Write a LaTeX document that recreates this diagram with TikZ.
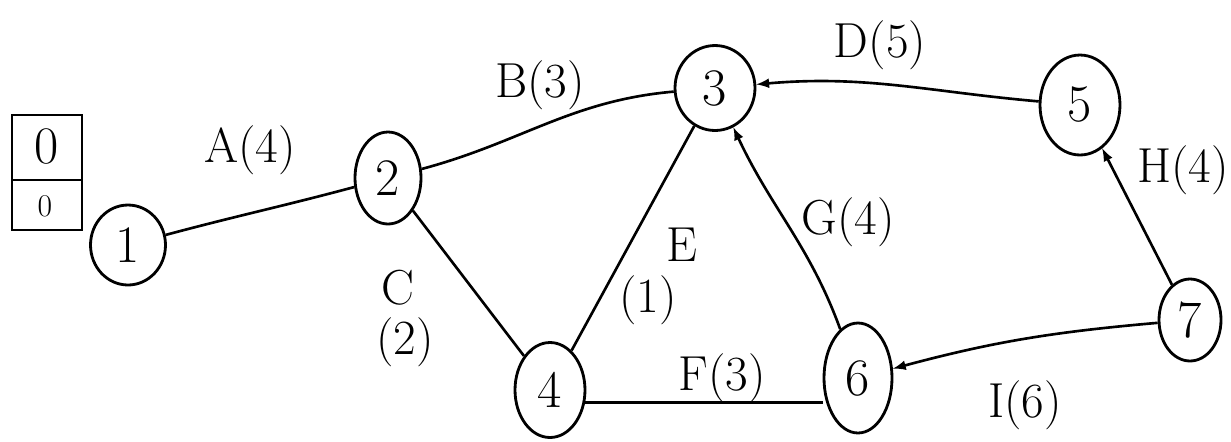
\documentclass[tikz,border=0pt]{standalone}
\usepackage{amsmath,amssymb}
\usepackage{tikz}
\usepackage{xcolor}
\usetikzlibrary{shapes.geometric}

\tikzset{
    event/.style={draw, ellipse, line width=1.6pt, inner sep=0pt, font=\fontsize{30}{34}\selectfont},
    lbl/.style={font=\fontsize{28}{32}\selectfont, inner sep=1pt},
    act/.style={line width=1.5pt},
}

\begin{document}
\begin{tikzpicture}[x=0.02cm, y=-0.02cm, >=latex]
    \useasboundingbox (0,0) rectangle (1231,441);
    \draw[line width=1.6pt] (12,115) rectangle (82,230);
    \draw[line width=1.4pt] (12,180) -- (82,180);
    \node[font=\fontsize{30}{34}\selectfont] (est) at (47,146) {0};
    \node[font=\fontsize{18}{20}\selectfont] (lst) at (45,206) {0};

    \node[event, minimum width=1.5cm, minimum height=1.6cm] (n1) at (128,245) {1};
    \node[event, minimum width=1.32cm, minimum height=1.84cm] (n2) at (388,178) {2};
    \node[event, minimum width=1.6cm, minimum height=1.7cm] (n3) at (715,88) {3};
    \node[event, minimum width=1.6cm, minimum height=2.0cm] (n5) at (1080,105) {5};
    \node[event, minimum width=1.4cm, minimum height=1.9cm] (n4) at (550,390) {4};
    \node[event, minimum width=1.36cm, minimum height=2.2cm] (n6) at (858,378) {6};
    \node[event, minimum width=1.24cm, minimum height=1.64cm] (n7) at (1190,320) {7};

    \draw[act] (n1) to[out=15, in=195] (n2);
    \draw[act] (n2) to[out=15, in=185] (n3);
    \draw[act, ->] (n5) to[out=175, in=5] (n3);
    \draw[act] (n2) -- (n4);
    \draw[act] (n4) -- (n3);
    \draw[act] (n4.-20) -- (n4.-20 -| n6.west);
    \draw[act, ->] (n6) to[out=110, in=-65] (n3);
    \draw[act, ->] (n7) -- (n5);
    \draw[act, ->] (n7) to[out=185, in=15] (n6);

    \node[lbl] (lA) at (250,150) {A(4)};
    \node[lbl] (lB) at (540,85) {B(3)};
    \node[lbl] (lD) at (880,45) {D(5)};
    \node[lbl] (lC) at (398,288) {C};
    \node[lbl] (lC2) at (405,342) {(2)};
    \node[lbl] (lE) at (682,245) {E};
    \node[lbl] (lE2) at (648,300) {(1)};
    \node[lbl] (lF) at (722,378) {F(3)};
    \node[lbl] (lG) at (848,222) {G(4)};
    \node[lbl] (lH) at (1183,170) {H(4)};
    \node[lbl] (lI) at (1025,405) {I(6)};
\end{tikzpicture}
\end{document}
